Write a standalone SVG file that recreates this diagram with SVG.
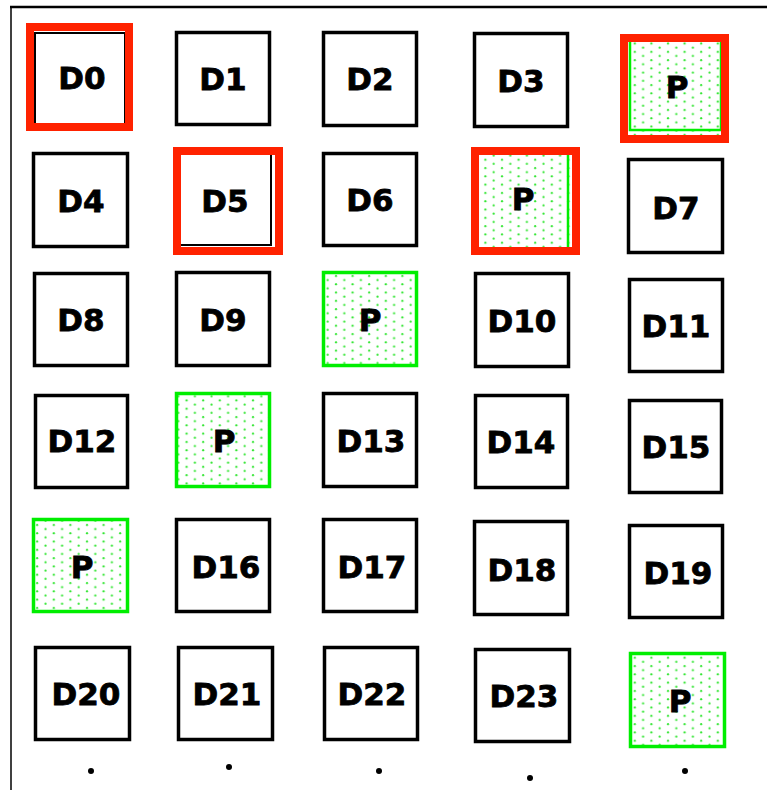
<svg xmlns="http://www.w3.org/2000/svg" width="767" height="790" viewBox="0 0 767 790">
<style>
.b{fill:#fff;stroke:#000;stroke-width:3.5}
.p{fill:url(#dots);stroke:#00ee00;stroke-width:3.5}
.r{fill:none;stroke:#ff2200;stroke-width:8}
.g{fill:none;stroke:#00ee00;stroke-width:2.5}
.t{font-family:"DejaVu Sans",sans-serif;font-weight:bold;font-size:31px;text-anchor:middle;fill:#000;stroke:#000;stroke-width:0.8}
</style>
<defs>
<pattern id="dots" width="16.6" height="8.3" patternUnits="userSpaceOnUse">
<rect width="16.6" height="8.3" fill="#fff"/>
<circle cx="4" cy="2" r="1.1" fill="#33e633"/>
<circle cx="12.3" cy="6.15" r="1.1" fill="#33e633"/>
</pattern>
</defs>
<rect width="767" height="790" fill="#fff"/>
<g id="frame">
<line x1="10" y1="7" x2="767" y2="7" stroke="#000" stroke-width="2.5"/>
<line x1="11" y1="6" x2="11" y2="790" stroke="#000" stroke-width="1.5"/>
</g>
<g id="D0"><rect x="35" y="33" width="90" height="93" fill="#fff" stroke="#000" stroke-width="2"/><rect class="r" x="30" y="27" width="99" height="100"/><text class="t" x="82" y="89">D0</text></g>
<g id="D1"><rect class="b" x="176.5" y="32.5" width="93" height="92"/><text class="t" x="223" y="90">D1</text></g>
<g id="D2"><rect class="b" x="323.5" y="32.5" width="93" height="93"/><text class="t" x="370" y="90">D2</text></g>
<g id="D3"><rect class="b" x="474.5" y="33.5" width="93" height="93"/><text class="t" x="521" y="92">D3</text></g>
<g id="P0"><rect x="628" y="42" width="93" height="93" fill="url(#dots)"/><rect class="g" x="630" y="40" width="91" height="90"/><rect class="r" x="624" y="38" width="101" height="101"/><text class="t" x="677" y="98">P</text></g>

<g id="D4"><rect class="b" x="33.5" y="153.5" width="94" height="93"/><text class="t" x="81" y="212">D4</text></g>
<g id="D5"><rect x="178" y="152" width="93" height="93" fill="#fff" stroke="#000" stroke-width="2"/><rect class="r" x="177" y="151" width="102" height="100"/><text class="t" x="225" y="212">D5</text></g>
<g id="D6"><rect class="b" x="323.5" y="153.5" width="93" height="92"/><text class="t" x="370" y="211">D6</text></g>
<g id="P1"><rect x="479" y="155" width="93" height="92" fill="url(#dots)"/><rect class="g" x="474" y="152" width="94" height="97"/><rect class="r" x="475" y="151" width="101" height="100"/><text class="t" x="523" y="210">P</text></g>
<g id="D7"><rect class="b" x="628.5" y="159.5" width="94" height="93"/><text class="t" x="676" y="219">D7</text></g>

<g id="D8"><rect class="b" x="34.5" y="273.5" width="93" height="92"/><text class="t" x="81" y="331">D8</text></g>
<g id="D9"><rect class="b" x="176.5" y="272.5" width="93" height="93"/><text class="t" x="223" y="331">D9</text></g>
<g id="P2"><rect class="p" x="323.5" y="272.5" width="93" height="93"/><text class="t" x="370" y="331">P</text></g>
<g id="D10"><rect class="b" x="475.5" y="273.5" width="93" height="93"/><text class="t" x="522" y="332">D10</text></g>
<g id="D11"><rect class="b" x="629.5" y="279.5" width="93" height="92"/><text class="t" x="676" y="337">D11</text></g>

<g id="D12"><rect class="b" x="35.5" y="395.5" width="92" height="92"/><text class="t" x="82" y="452">D12</text></g>
<g id="P3"><rect class="p" x="176.5" y="393.5" width="93" height="93"/><text class="t" x="224" y="452">P</text></g>
<g id="D13"><rect class="b" x="323.5" y="393.5" width="93" height="93"/><text class="t" x="371" y="452">D13</text></g>
<g id="D14"><rect class="b" x="475.5" y="395.5" width="92" height="92"/><text class="t" x="521" y="453">D14</text></g>
<g id="D15"><rect class="b" x="629.5" y="400.5" width="92" height="92"/><text class="t" x="676" y="458">D15</text></g>

<g id="P4"><rect class="p" x="33.5" y="519.5" width="94" height="92"/><text class="t" x="82" y="578">P</text></g>
<g id="D16"><rect class="b" x="176.5" y="519.5" width="93" height="92"/><text class="t" x="226" y="578">D16</text></g>
<g id="D17"><rect class="b" x="323.5" y="519.5" width="93" height="92"/><text class="t" x="372" y="578">D17</text></g>
<g id="D18"><rect class="b" x="474.5" y="521.5" width="93" height="93"/><text class="t" x="522" y="581">D18</text></g>
<g id="D19"><rect class="b" x="629.5" y="525.5" width="93" height="92"/><text class="t" x="678" y="584">D19</text></g>

<g id="D20"><rect class="b" x="35.5" y="647.5" width="94" height="92"/><text class="t" x="86" y="705">D20</text></g>
<g id="D21"><rect class="b" x="178.5" y="647.5" width="94" height="92"/><text class="t" x="227" y="705">D21</text></g>
<g id="D22"><rect class="b" x="324.5" y="647.5" width="93" height="92"/><text class="t" x="372" y="705">D22</text></g>
<g id="D23"><rect class="b" x="475.5" y="649.5" width="94" height="92"/><text class="t" x="524" y="707">D23</text></g>
<g id="P5"><rect class="p" x="630.5" y="653.5" width="94" height="93"/><text class="t" x="680" y="712">P</text></g>

<g id="dots-row" fill="#000">
<circle cx="91" cy="771" r="3"/>
<circle cx="229" cy="767" r="3"/>
<circle cx="379" cy="771" r="3"/>
<circle cx="530" cy="778" r="3"/>
<circle cx="685" cy="771" r="3"/>
</g>
</svg>
